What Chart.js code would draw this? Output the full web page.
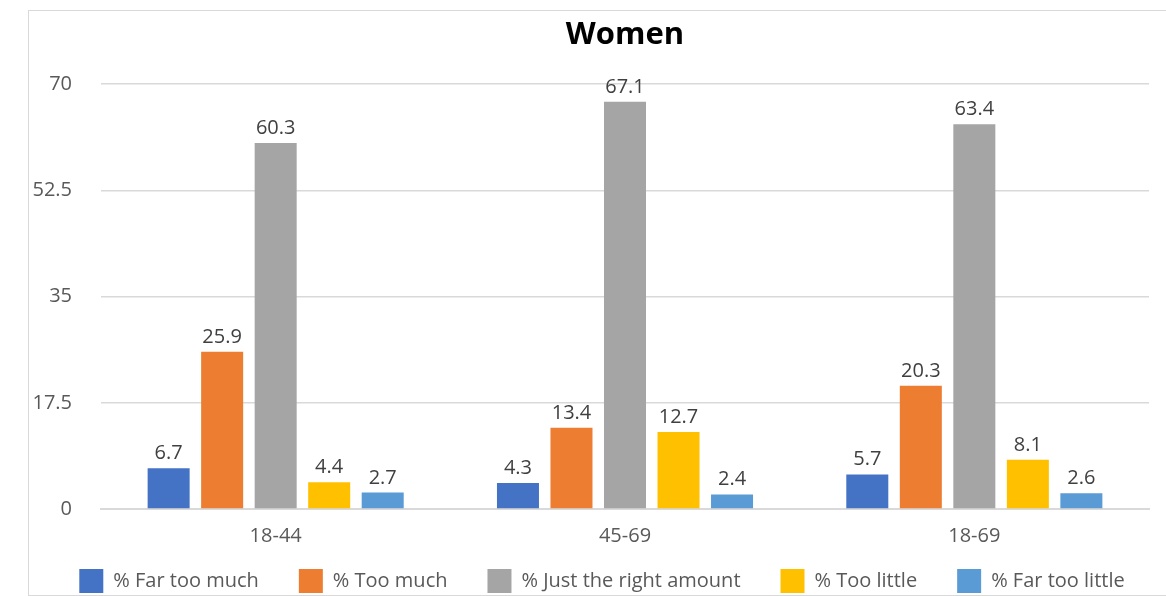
<!DOCTYPE html>
<html>
<head>
<meta charset="utf-8">
<script src="https://cdn.jsdelivr.net/npm/chart.js@4"></script>
<style>
  html, body { margin: 0; padding: 0; background: #fff; overflow: hidden; }
  #box {
    position: absolute; left: 28px; top: 10px;
    width: 1160px; height: 584px;
    border: 1px solid #d9d9d9;
  }
  #box canvas { display: block; }
</style>
</head>
<body>
<div id="box"><canvas id="chart" width="1160" height="584"></canvas></div>
<script>
// --- datos ---
const categories = ["18-44", "45-69", "18-69"];
const seriesNames = ["% Far too much", "% Too much", "% Just the right amount", "% Too little", "% Far too little"];
const farTooMuch = [6.7, 4.3, 5.7];
const tooMuch = [25.9, 13.4, 20.3];
const justRight = [60.3, 67.1, 63.4];
const tooLittle = [4.4, 12.7, 8.1];
const farTooLittle = [2.7, 2.4, 2.6];
const yTicks = [0, 17.5, 35, 52.5, 70];

const colors = ["#4472C4", "#ED7D31", "#A5A5A5", "#FFC000", "#5B9BD5"];
const seriesValues = [farTooMuch, tooMuch, justRight, tooLittle, farTooLittle];
const font = "'Open Sans', 'DejaVu Sans', sans-serif";

// --- etiquetas de valor encima de cada barra ---
const valueLabels = {
  id: "valueLabels",
  afterDatasetsDraw(chart) {
    const ctx = chart.ctx;
    ctx.save();
    ctx.font = "20px " + font;
    ctx.fillStyle = "#404040";
    ctx.textAlign = "center";
    ctx.textBaseline = "alphabetic";
    chart.data.datasets.forEach((ds, i) => {
      chart.getDatasetMeta(i).data.forEach((bar, j) => {
        ctx.fillText(ds.data[j].toFixed(1), bar.x, bar.y - 9);
      });
    });
    ctx.restore();
  },
};

// --- leyenda: una sola fila, menos alta que el padding horizontal ---
const legendFix = {
  id: "legendFix",
  beforeInit(chart) {
    const fit = chart.legend.fit;
    chart.legend.fit = function () {
      const mw = this.maxWidth;
      this.maxWidth = mw + 200;
      fit.call(this);
      this.maxWidth = mw;
      this.width = mw;
      this.height = 40;
    };
  },
  beforeDraw(chart) {
    const lg = chart.legend;
    lg.top = lg.bottom - 66;
    lg.left += 12 - 100;
    lg.right += 12 + 100;
  },
};

new Chart(document.getElementById("chart"), {
  type: "bar",
  data: {
    labels: categories,
    datasets: seriesNames.map((name, i) => ({
      label: name,
      data: seriesValues[i],
      backgroundColor: colors[i],
      categoryPercentage: 0.766,
      barPercentage: 0.785,
    })),
  },
  options: {
    responsive: false,
    animation: false,
    layout: { padding: { left: 2, right: 40, top: 0, bottom: 0 } },
    plugins: {
      title: {
        display: true,
        fullSize: false,
        text: "Women",
        color: "#000",
        font: { family: font, size: 31, weight: "bold" },
        padding: { top: 6, bottom: 30 },
      },
      legend: {
        position: "bottom",
        labels: {
          boxWidth: 24,
          boxHeight: 24,
          padding: 40,
          color: "#595959",
          font: { family: font, size: 20 },
        },
      },
      tooltip: { enabled: false },
    },
    scales: {
      x: {
        grid: { display: false },
        border: { color: "#d9d9d9", width: 2 },
        ticks: { color: "#595959", font: { family: font, size: 20 }, padding: 7 },
      },
      y: {
        min: 0,
        max: 70,
        afterBuildTicks: (axis) => { axis.ticks = yTicks.map((v) => ({ value: v })); },
        afterFit: (axis) => { axis.width = 70; },
        grid: { color: "#d9d9d9", lineWidth: 1.5, drawTicks: false },
        border: { display: false },
        ticks: {
          color: "#595959",
          font: { family: font, size: 20 },
          padding: 29,
          callback: (v) => String(v),
        },
      },
    },
  },
  plugins: [valueLabels, legendFix],
});
</script>
</body>
</html>
